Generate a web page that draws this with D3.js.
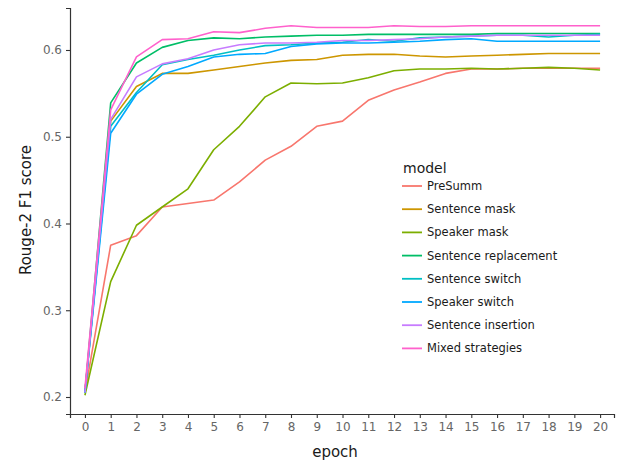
<!DOCTYPE html>
<html>
<head>
<meta charset="utf-8">
<script src="https://cdn.jsdelivr.net/npm/d3@7"></script>
<style>
  body { margin: 0; background: #fff; }
  svg text { font-family: "DejaVu Sans", sans-serif; }
</style>
</head>
<body>
<svg id="chart" width="618" height="464"></svg>
<script>
(function () {

// Data
const epochs = d3.range(0, 21);
const models = ["PreSumm", "Sentence mask", "Speaker mask", "Sentence replacement",
    "Sentence switch", "Speaker switch", "Sentence insertion", "Mixed strategies"];
const colors = ["#F8766D", "#CD9600", "#7CAE00", "#00BE67", "#00BFC4", "#00A9FF", "#C77CFF", "#FF61CC"];

const preSumm = [0.205, 0.375, 0.386, 0.419, 0.423, 0.427, 0.448, 0.473, 0.489, 0.512, 0.518,
    0.542, 0.554, 0.563, 0.573, 0.578, 0.578, 0.579, 0.579, 0.579, 0.579];
const sentenceMask = [0.205, 0.518, 0.558, 0.573, 0.573, 0.577, 0.581, 0.585, 0.588, 0.589, 0.594,
    0.595, 0.595, 0.593, 0.592, 0.593, 0.594, 0.595, 0.596, 0.596, 0.596];
const speakerMask = [0.202, 0.333, 0.398, 0.419, 0.440, 0.485, 0.512, 0.546, 0.562, 0.561, 0.562,
    0.568, 0.576, 0.578, 0.578, 0.579, 0.578, 0.579, 0.580, 0.579, 0.577];
const sentenceReplacement = [0.205, 0.539, 0.585, 0.603, 0.611, 0.614, 0.613, 0.615, 0.616, 0.617, 0.617,
    0.618, 0.618, 0.618, 0.618, 0.618, 0.619, 0.619, 0.619, 0.619, 0.619];
const sentenceSwitch = [0.205, 0.512, 0.551, 0.583, 0.589, 0.594, 0.600, 0.605, 0.606, 0.608, 0.609,
    0.612, 0.610, 0.614, 0.615, 0.616, 0.617, 0.617, 0.615, 0.617, 0.618];
const speakerSwitch = [0.205, 0.504, 0.549, 0.572, 0.581, 0.592, 0.595, 0.596, 0.604, 0.607, 0.608,
    0.608, 0.609, 0.610, 0.612, 0.613, 0.610, 0.610, 0.610, 0.610, 0.610];
const sentenceInsertion = [0.205, 0.520, 0.569, 0.584, 0.590, 0.600, 0.606, 0.608, 0.608, 0.609, 0.611,
    0.611, 0.612, 0.613, 0.615, 0.616, 0.617, 0.617, 0.617, 0.617, 0.617];
const mixedStrategies = [0.210, 0.531, 0.592, 0.612, 0.613, 0.621, 0.620, 0.625, 0.628, 0.626, 0.626,
    0.626, 0.628, 0.627, 0.627, 0.628, 0.628, 0.628, 0.628, 0.628, 0.628];

const series = [preSumm, sentenceMask, speakerMask, sentenceReplacement,
    sentenceSwitch, speakerSwitch, sentenceInsertion, mixedStrategies];
const yTicks = [0.2, 0.3, 0.4, 0.5, 0.6];

const svg = d3.select("#chart");

// Scales (domains padded a bit past the data like ggplot)
const x = d3.scaleLinear().domain([-0.58, 20.54]).range([70, 614]);
const y = d3.scaleLinear().domain([0.1804, 0.6484]).range([414, 8]);

// X axis
const xAxis = svg.append("g")
    .attr("transform", "translate(0,414)")
    .call(d3.axisBottom(x).tickValues(epochs).tickSize(4).tickPadding(4).tickFormat(d3.format("d")));
// Y axis
const yAxis = svg.append("g")
    .attr("transform", "translate(70,0)")
    .call(d3.axisLeft(y).tickValues(yTicks).tickSize(4).tickPadding(4).tickFormat(d3.format(".1f")));

[xAxis, yAxis].forEach(a => {
    a.select(".domain").attr("stroke", "#333").attr("stroke-width", 1.2);
    a.selectAll(".tick line").attr("stroke", "#333").attr("stroke-width", 1.1);
    a.selectAll(".tick text").attr("fill", "#666").style("font-size", "12px")
        .style("font-family", "DejaVu Sans, sans-serif");
});

// Axis titles
svg.append("text")
    .attr("x", 335).attr("y", 457)
    .attr("text-anchor", "middle")
    .style("font-size", "15px")
    .attr("fill", "#1a1a1a")
    .text("epoch");

svg.append("text")
    .attr("transform", "translate(31,210) rotate(-90)")
    .attr("text-anchor", "middle")
    .style("font-size", "15px")
    .attr("fill", "#1a1a1a")
    .text("Rouge-2 F1 score");

// Lines
const line = d3.line()
    .x((d, i) => x(epochs[i]))
    .y(d => y(d));

svg.append("g").selectAll("path")
    .data(series)
    .enter().append("path")
    .attr("d", line)
    .attr("fill", "none")
    .attr("stroke", (d, i) => colors[i])
    .attr("stroke-width", 1.6)
    .attr("stroke-linejoin", "round");

// Legend
const legend = svg.append("g").attr("transform", "translate(402,0)");
legend.append("text")
    .attr("x", 1).attr("y", 173)
    .style("font-size", "14px")
    .attr("fill", "#1a1a1a")
    .text("model");

const items = legend.selectAll(".item")
    .data(models)
    .enter().append("g")
    .attr("class", "item")
    .attr("transform", (d, i) => `translate(0,${186 + i * 23.2})`);

items.append("line")
    .attr("x1", 0).attr("x2", 20)
    .attr("stroke", (d, i) => colors[i])
    .attr("stroke-width", 1.8);

items.append("text")
    .attr("x", 25).attr("y", 4)
    .style("font-size", "11.5px")
    .attr("fill", "#1a1a1a")
    .text(d => d);

})();
</script>
</body>
</html>
